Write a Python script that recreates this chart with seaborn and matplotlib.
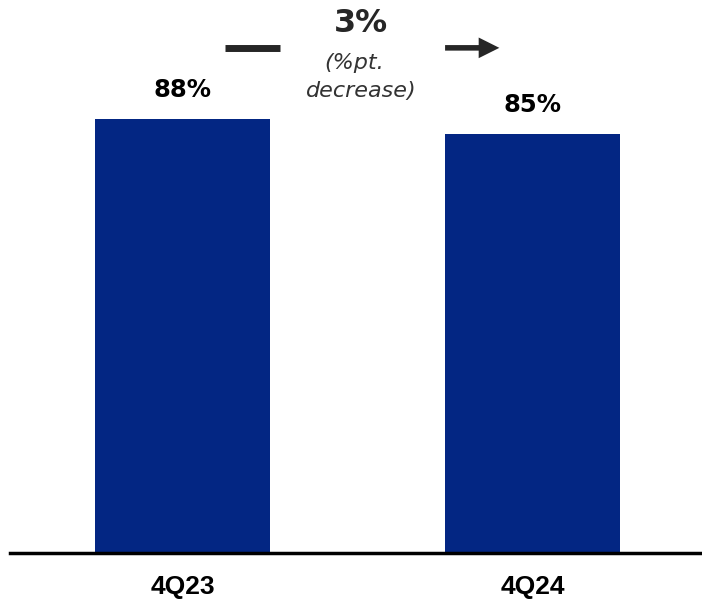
import matplotlib
matplotlib.use("Agg")
import matplotlib.pyplot as plt
import seaborn as sns
import pandas as pd

categories = ["4Q23", "4Q24"]
values = [88, 85]
value_labels = ["88%", "85%"]
change_label = "3%"
change_note = ["(%pt.", "decrease)"]

sns.set_theme(style="white")
plt.rcParams['font.family'] = ['DejaVu Sans']

df = pd.DataFrame({"quarter": categories, "share": values})

fig = plt.figure(figsize=(7.02, 6.13), dpi=100)
ax = fig.add_axes([10/702, 60/613, 692/702, 553/613])
sns.barplot(data=df, x="quarter", y="share", color="#032683", width=0.5,
            saturation=1, linewidth=0, ax=ax)

ax.set_xlim(-0.493, 1.484)
ax.set_ylim(0, 112.1)
ax.set_xlabel("")
ax.set_ylabel("")
ax.set_yticks([])
for s in ["top", "right", "left"]:
    ax.spines[s].set_visible(False)
ax.spines["bottom"].set_color("black")
ax.spines["bottom"].set_linewidth(2.5)
ax.tick_params(axis="x", length=0, pad=16)
for lab in ax.get_xticklabels():
    lab.set_fontfamily("Liberation Sans")
    lab.set_fontweight("bold")
    lab.set_fontsize(19)
    lab.set_color("black")

for i, (v, t) in enumerate(zip(values, value_labels)):
    ax.annotate(t, (i, v), xytext=(0, 21), textcoords="offset points",
                ha="center", va="center", fontsize=17.5, fontweight="bold",
                color="black")

ax.text(0.51, 107.3, change_label, ha="center", va="center", fontsize=23,
        fontweight="bold", color="#262626", clip_on=False)
ax.text(0.49, 99.4, change_note[0], ha="center", va="center", fontsize=16,
        fontstyle="italic", color="#333333", clip_on=False)
ax.text(0.51, 93.6, change_note[1], ha="center", va="center", fontsize=16,
        fontstyle="italic", color="#333333", clip_on=False)

ax.plot([0.121, 0.278], [102.4, 102.4], color="#262626", lw=5,
        solid_capstyle="butt", clip_on=False)
ax.annotate("", xy=(0.905, 102.4), xytext=(0.750, 102.4),
            arrowprops=dict(arrowstyle="-|>,head_length=0.7,head_width=0.35",
                            color="#262626", lw=4, shrinkA=0, shrinkB=0,
                            capstyle="butt", joinstyle="miter"),
            annotation_clip=False)

fig.savefig("out.png", dpi=100)
